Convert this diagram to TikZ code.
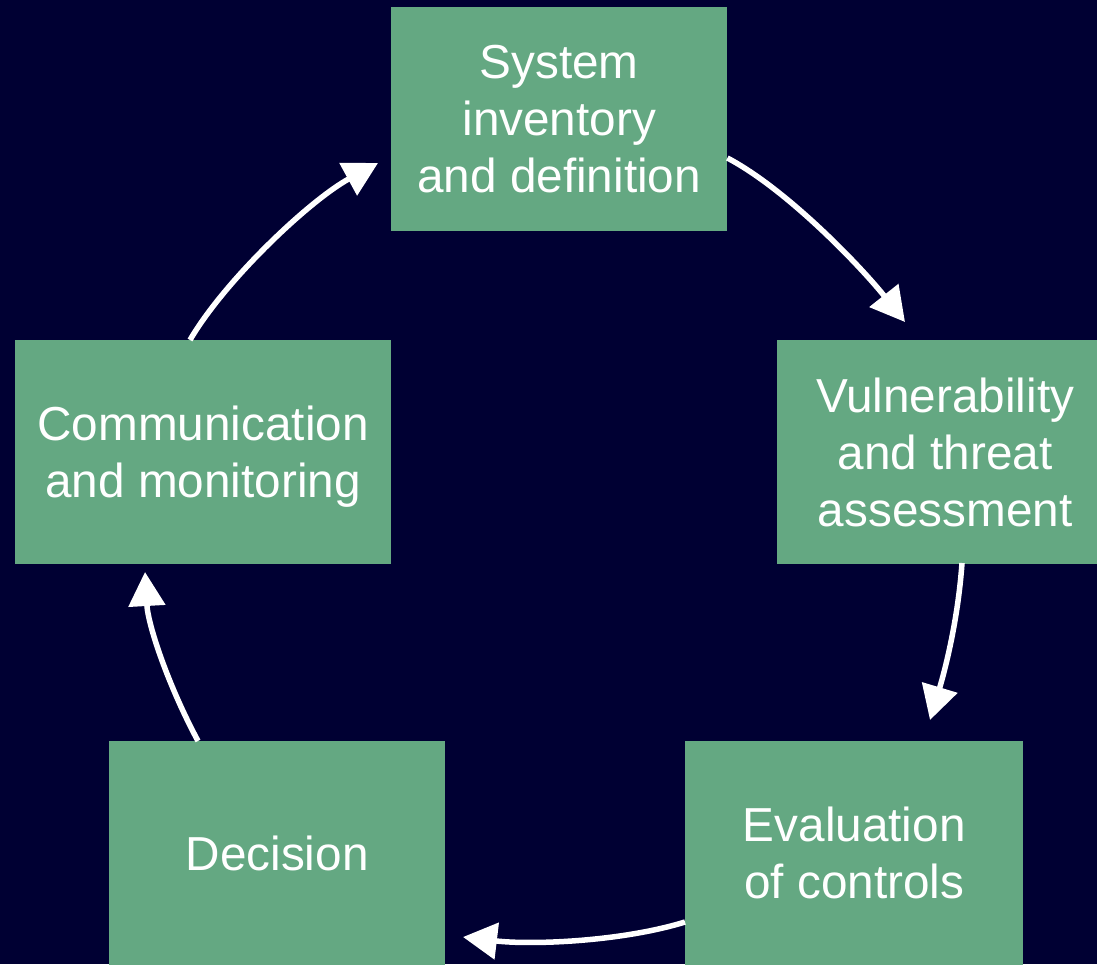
\documentclass[tikz,border=0pt]{standalone}
\usepackage{fontspec}
\setmainfont{Liberation Sans}
\usetikzlibrary{arrows.meta}
\definecolor{bgnavy}{HTML}{000033}
\definecolor{boxgreen}{HTML}{64A882}
\tikzset{
  stagebox/.style={fill=boxgreen, draw=none, anchor=north west, inner sep=0pt,
    text=white, align=center, font=\fontsize{47.7}{57}\selectfont},
  flow/.style={draw=white, line width=5.5pt, -{Triangle[length=34pt,width=36pt]}}
}
\begin{document}
\begin{tikzpicture}[x=1pt,y=-1pt]
\clip (0,0) rectangle (1097,964);
\fill[bgnavy] (0,0) rectangle (1097,964);
\node[stagebox, minimum width=336pt, minimum height=224pt] (sys) at (391,7) {System\\inventory\\and definition};
\node[stagebox, minimum width=336pt, minimum height=224pt] (vul) at (777,340) {Vulnerability\\and threat\\assessment};
\node[stagebox, minimum width=338pt, minimum height=224pt] (eva) at (685,741) {Evaluation\\of controls};
\node[stagebox, minimum width=336pt, minimum height=224pt] (dec) at (109,741) {Decision};
\node[stagebox, minimum width=376pt, minimum height=224pt, text depth=0pt] (com) at (15,340) {Communication\\and monitoring};
\coordinate (s1) at (sys.east |- 0,158);
\coordinate (e1) at (905,322);
\coordinate (s2) at (962,563);
\coordinate (e2) at (930,720);
\coordinate (s3) at (eva.west |- 0,922);
\coordinate (e3) at (463,937);
\coordinate (s4) at (198,741);
\coordinate (e4) at (145,572);
\coordinate (s5) at (190,340);
\coordinate (e5) at (378,163);
\draw[flow] (s1) .. controls (788,190) and (862,268) .. (e1);
\draw[flow] (s2) .. controls (958,620) and (945,670) .. (e2);
\draw[flow] (s3) .. controls (620,942) and (530,945) .. (e3);
\draw[flow] (s4) .. controls (168,685) and (148,625) .. (e4);
\draw[flow] (s5) .. controls (225,280) and (310,200) .. (e5);
\end{tikzpicture}
\end{document}
